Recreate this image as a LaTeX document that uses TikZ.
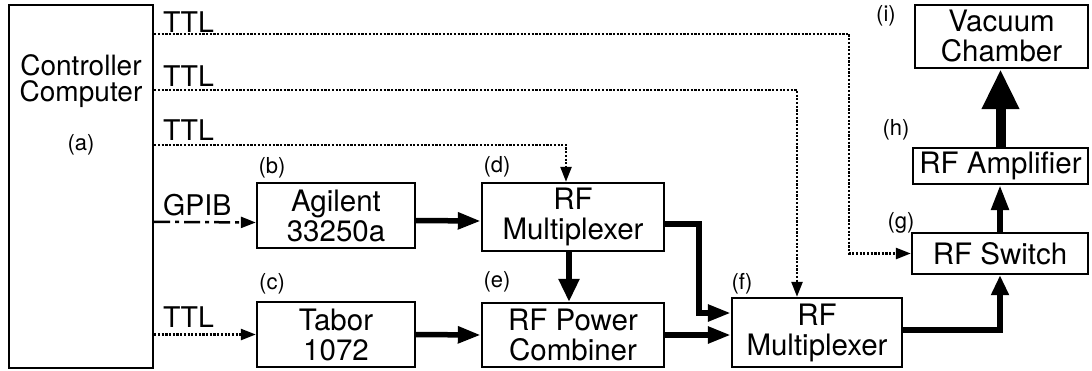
\documentclass[tikz,border=0pt]{standalone}
\usepackage{fontspec}
\setmainfont{TeX Gyre Heros}
\usetikzlibrary{arrows.meta}

\begin{document}
\begin{tikzpicture}[x=1pt, y=-1pt,
    txt/.style={inner sep=0pt, align=center, font=\fontsize{29.5}{30}\selectfont},
    box/.style={txt, draw, line width=2.4pt},
    tag/.style={inner sep=0pt, font=\fontsize{22}{24}\selectfont},
    sig/.style={inner sep=0pt, anchor=base west, font=\fontsize{28.5}{30}\selectfont},
    ttl/.style={line width=2.5pt, dash pattern=on 2.2pt off 1.5pt, -{Triangle[length=15pt,width=11pt]}},
    gpib/.style={line width=2.5pt, dash pattern=on 16pt off 5pt on 4pt off 5pt, -{Triangle[length=15pt,width=11pt]}},
    rf/.style={line width=5.5pt, -{Triangle[length=23pt,width=16pt]}}]

     \useasboundingbox (0,0) rectangle (1092,370);

     \node[box, minimum width=144pt, minimum height=363pt] (ctrl) at (81,186.5) {};
     \node[txt, font=\fontsize{28}{26.5}\selectfont] (ctrltxt) at (81,81) {Controller\\Computer};
     \node[tag] (a) at (81,145) {(a)};

     \node[box, minimum width=158pt, minimum height=65pt] (agil) at (336,215.5) {Agilent\\33250a};
     \node[box, minimum width=158pt, minimum height=65pt] (tabor) at (336,334.5) {Tabor\\1072};
     \node[box, minimum width=182pt, minimum height=68pt] (muxd) at (573,217) {RF\\Multiplexer};
     \node[box, minimum width=182pt, minimum height=64pt] (comb) at (573,335) {RF Power\\Combiner};
     \node[box, minimum width=170pt, minimum height=69pt] (muxf) at (817,332.5) {RF\\Multiplexer};
     \node[box, minimum width=176pt, minimum height=41pt] (sw) at (1000,253.5) {RF Switch};
     \node[box, minimum width=175pt, minimum height=36pt] (amp) at (1000.5,166) {RF Amplifier};
     \node[box, minimum width=173pt, minimum height=63pt] (vac) at (1001.5,36.5) {Vacuum\\Chamber};

     \node[tag] (b) at (272,168) {(b)};
     \node[tag] (c) at (272,284) {(c)};
     \node[tag] (d) at (497,167) {(d)};
     \node[tag] (e) at (497,282) {(e)};
     \node[tag] (f) at (742,284) {(f)};
     \node[tag] (g) at (901,223) {(g)};
     \node[tag] (h) at (896,130) {(h)};
     \node[tag] (i) at (886,16) {(i)};

     \node[sig] (ttla) at (163,32) {TTL};
     \node[sig] (ttlb) at (163,86) {TTL};
     \node[sig] (ttlc) at (163,140) {TTL};
     \node[sig] (gpibl) at (163,215) {GPIB};
     \node[sig] (ttld) at (163,327) {TTL};

     \draw[ttl] (ctrl.north east) ++(0,30) -- ++(695,0) |- (sw.west);
     \draw[ttl] (ctrl.north east) ++(0,86) -| ([xshift=-20pt]muxf.north);
     \draw[ttl] (ctrl.north east) ++(0,141) -| ([xshift=-7pt]muxd.north);
     \draw[gpib] (ctrl.north east) ++(0,218) -- ([yshift=-7pt]agil.west);
     \draw[ttl] (ctrl.east |- tabor.west) -- (tabor.west);

     \draw[rf] ([yshift=-5pt]agil.east) -- ([yshift=-4pt]muxd.west);
     \draw[rf] (tabor.east) -- (comb.west);
     \draw[rf, -{Triangle[length=23pt,width=20pt]}] ([xshift=-4pt]muxd.south) -- ([xshift=-4pt]comb.north);
     \draw[rf] ([yshift=-7pt]muxd.east) -- ++(34,0) |- ([yshift=19.5pt]muxf.west);
     \draw[rf] (comb.east) -- (comb.east -| muxf.west);
     \draw[rf, -{Triangle[length=20pt,width=17pt]}] ([yshift=2.5pt]muxf.east) -| (sw.south);
     \draw[rf, -{Triangle[length=25pt,width=17pt]}] (sw.north) -- (sw.north |- amp.south);
     \draw[rf, line width=10pt, -{Triangle[length=40pt,width=35pt]}] (amp.north) -- (amp.north |- vac.south);
\end{tikzpicture}
\end{document}
